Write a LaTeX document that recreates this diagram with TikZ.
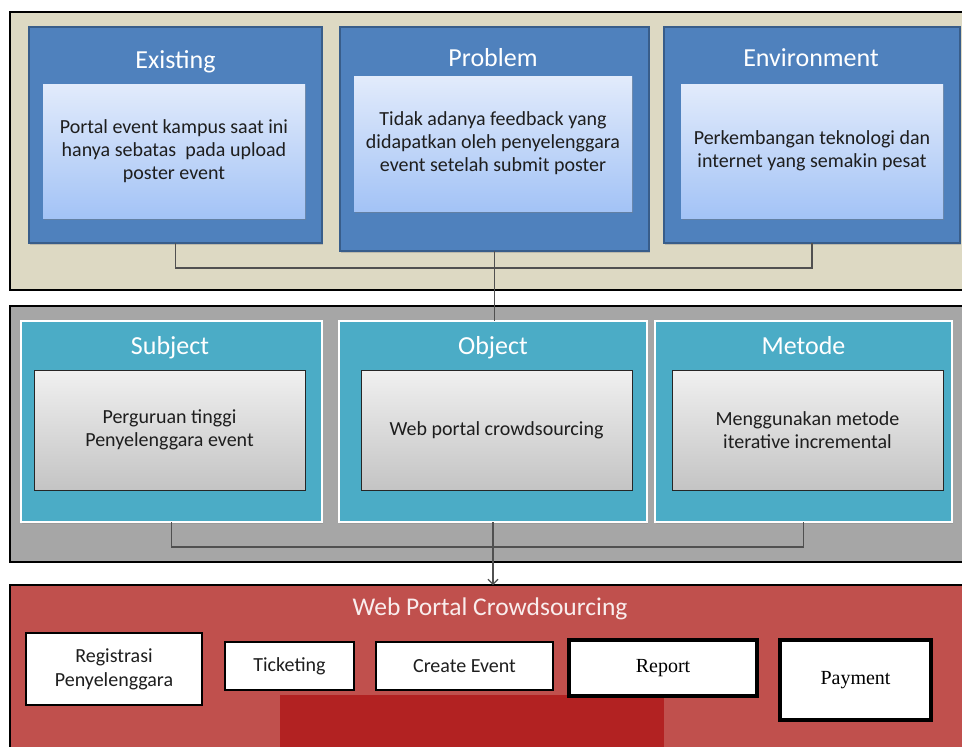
\documentclass[tikz,border=0pt]{standalone}
\usepackage{fontspec}
\setmainfont{Carlito}
\newfontfamily\tnr{Liberation Serif}
\usetikzlibrary{shadows,arrows.meta}
\definecolor{beigeP}{RGB}{221,217,195}
\definecolor{blueA}{RGB}{79,129,189}
\definecolor{blueB}{RGB}{56,93,138}
\definecolor{lightT}{RGB}{226,235,251}
\definecolor{lightB}{RGB}{163,195,246}
\definecolor{grayP}{RGB}{166,166,166}
\definecolor{tealA}{RGB}{75,172,198}
\definecolor{grayT}{RGB}{240,240,240}
\definecolor{grayB}{RGB}{196,196,196}
\definecolor{redP}{RGB}{192,80,77}
\definecolor{redD}{RGB}{178,34,34}
\definecolor{connC}{RGB}{80,80,80}
\definecolor{txtC}{RGB}{30,30,30}
\tikzset{
  base/.style={anchor=north west, inner sep=0pt, outer sep=0pt},
  panel/.style={base, draw=black, line width=2.5pt},
  bluebox/.style={base, fill=blueA, draw=blueB, line width=1.2pt,
     drop shadow={shadow xshift=1pt, shadow yshift=-1.5pt, opacity=0.35}},
  lightbox/.style={base, top color=lightT, bottom color=lightB, draw=none,
     align=center, text=txtC, font=\fontsize{20}{23}\selectfont,
     drop shadow={shadow xshift=1pt, shadow yshift=-1.5pt, opacity=0.4}},
  tealbox/.style={base, fill=tealA, draw=white, line width=2.5pt,
     drop shadow={shadow xshift=1pt, shadow yshift=-1.5pt, opacity=0.3}},
  graybox/.style={base, top color=grayT, bottom color=grayB, draw=black!85, line width=0.8pt,
     align=center, text=txtC, font=\fontsize{20}{23}\selectfont},
  ttl/.style={text=white, font=\fontsize{26}{30}\selectfont, inner sep=0pt, anchor=base},
  wbox/.style={base, fill=white, draw=black, line width=2.2pt, align=center,
     font=\fontsize{20}{24}\selectfont, text=txtC},
  tbox/.style={base, fill=white, draw=black, line width=4pt, align=center,
     font=\tnr\fontsize{20}{24}\selectfont},
  conn/.style={draw=connC, line width=1.1pt},
}
\begin{document}
\begin{tikzpicture}[x=1pt,y=-1pt]
\useasboundingbox (0,0) rectangle (962,747);
\clip (0,0) rectangle (962,747);
\fill[white] (0,0) rectangle (962,747);
% ---------- top panel ----------
\node[panel, fill=beigeP, minimum width=953pt, minimum height=278pt] (toppanel) at (10,12) {};
\node[bluebox, minimum width=293pt, minimum height=216pt] (exist) at (29,27) {};
\node[bluebox, minimum width=309pt, minimum height=224pt] (prob) at (340,27) {};
\node[bluebox, minimum width=296pt, minimum height=216pt] (env) at (664,27) {};
\node[ttl] (existT) at (175.5,68) {Existing};
\node[ttl] (probT) at (493,66.5) {Problem};
\node[ttl] (envT) at (811,66) {Environment};
\node[lightbox, minimum width=262pt, minimum height=134pt] (existIn) at (43,84)
  {Portal event kampus saat ini\\hanya sebatas \ pada upload\\poster event};
\node[lightbox, minimum width=278pt, minimum height=135pt] (probIn) at (354,76)
  {Tidak adanya feedback yang\\didapatkan oleh penyelenggara\\event setelah submit poster};
\node[lightbox, minimum width=262pt, minimum height=134pt] (envIn) at (681,84)
  {Perkembangan teknologi dan\\internet yang semakin pesat};
% ---------- middle panel ----------
\node[panel, fill=grayP, minimum width=953pt, minimum height=256pt] (midpanel) at (10,306) {};
\node[tealbox, minimum width=301pt, minimum height=201pt] (subj) at (21,321) {};
\node[tealbox, minimum width=308pt, minimum height=201pt] (obj) at (339,321) {};
\node[tealbox, minimum width=297pt, minimum height=201pt] (met) at (655,321) {};
\node[ttl] (subjT) at (170,354) {Subject};
\node[ttl] (objT) at (493,354) {Object};
\node[ttl] (metT) at (803.5,354) {Metode};
\node[graybox, minimum width=271pt, minimum height=120pt] (subjIn) at (34,370)
  {Perguruan tinggi\\Penyelenggara event};
\node[graybox, minimum width=271pt, minimum height=120pt] (objIn) at (361,370)
  {Web portal crowdsourcing};
\node[graybox, minimum width=271pt, minimum height=120pt] (metIn) at (672,370)
  {Menggunakan metode\\iterative incremental};
% ---------- bottom panel ----------
\node[panel, fill=redP, minimum width=953pt, minimum height=200pt] (botpanel) at (10,585) {};
\node[ttl, text=white!90!redP, font=\fontsize{25.5}{30}\selectfont] (botT) at (490,615) {Web Portal Crowdsourcing};
\node[base, fill=redD, minimum width=384pt, minimum height=60pt] (darkred) at (280,695) {};
\node[wbox, minimum width=176pt, minimum height=72pt] (reg) at (26,633) {Registrasi\\Penyelenggara};
\node[wbox, minimum width=129pt, minimum height=48pt] (tick) at (225,642) {Ticketing};
\node[wbox, minimum width=177pt, minimum height=48pt] (create) at (376,642) {Create Event};
\node[tbox, minimum width=188pt, minimum height=56pt] (report) at (569,640) {Report};
\node[tbox, minimum width=151pt, minimum height=80pt] (pay) at (780,640) {Payment};
% ---------- connectors ----------
\draw[conn] (exist.south) -- ++(0,25) -| (env.south);
\draw[conn] (prob.south) -- (prob.south |- obj.north);
\draw[conn] (subj.south) -- ++(0,25) -| (met.south);
\draw[conn, -{Straight Barb[length=5pt,width=10pt]}] (obj.south) -- (obj.south |- botpanel.north);
\end{tikzpicture}
\end{document}
